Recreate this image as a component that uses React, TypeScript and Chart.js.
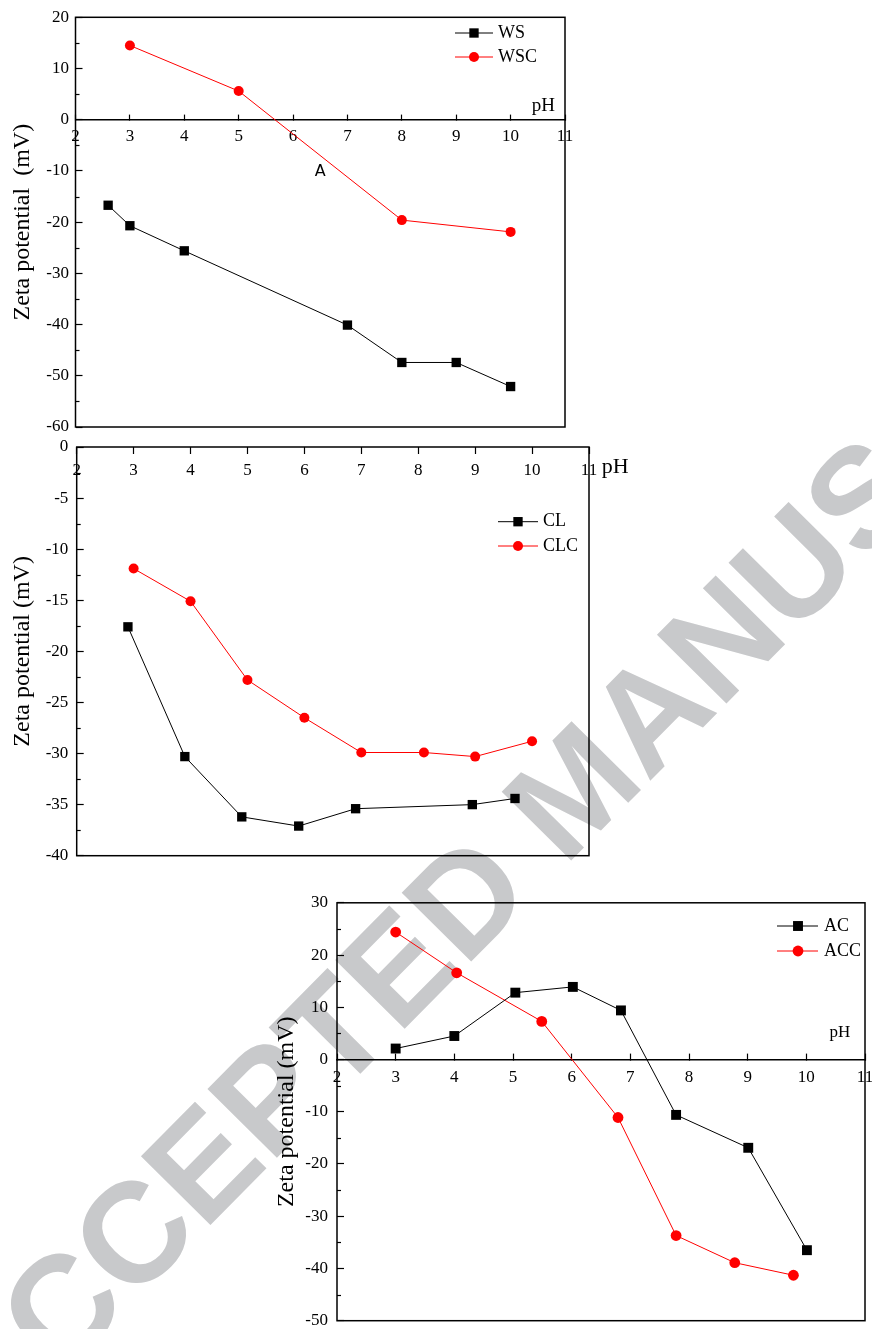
import React, { useEffect, useRef } from 'react';
import { Chart, registerables } from 'chart.js';

Chart.register(...registerables);

// ---------- Data ----------
// Panel A : WS / WSC
const wsPH = [2.6, 3, 4, 7, 8, 9, 10];
const wsZeta = [-16.7, -20.7, -25.6, -40.1, -47.4, -47.4, -52.1];
const wscPH = [3, 5, 8, 10];
const wscZeta = [14.5, 5.6, -19.6, -21.9];

// Panel B : CL / CLC
const clPH = [2.9, 3.9, 4.9, 5.9, 6.9, 8.95, 9.7];
const clZeta = [-17.6, -30.3, -36.2, -37.1, -35.4, -35.0, -34.4];
const clcPH = [3, 4, 5, 6, 7, 8.1, 9, 10];
const clcZeta = [-11.9, -15.1, -22.8, -26.5, -29.9, -29.9, -30.3, -28.8];

// Panel C : AC / ACC
const acPH = [3, 4, 5.04, 6.02, 6.84, 7.78, 9.01, 10.01];
const acZeta = [2.1, 4.5, 12.8, 13.9, 9.4, -10.6, -16.9, -36.5];
const accPH = [3, 4.04, 5.49, 6.79, 7.78, 8.78, 9.78];
const accZeta = [24.4, 16.6, 7.3, -11.1, -33.7, -38.9, -41.3];

// Tick labels
const pHTickLabels = ['2', '3', '4', '5', '6', '7', '8', '9', '10', '11'];
const yTicksA = ['-60', '-50', '-40', '-30', '-20', '-10', '0', '10', '20'];
const yTicksB = ['-40', '-35', '-30', '-25', '-20', '-15', '-10', '-5', '0'];
const yTicksC = ['-50', '-40', '-30', '-20', '-10', '0', '10', '20', '30'];

const WATERMARK = 'ACCEPTED MANUSCRIPT';

// ---------- Styling / layout ----------
const SERIF = '"Liberation Serif", "Times New Roman", serif';
const BLACK = '#000000';
const RED = '#ff0000';

type Series = { label: string; x: number[]; y: number[]; color: string; marker: 'rect' | 'circle'; radius: number };
type Note = { text: string; x: number; y: number; font: string };
type PanelSpec = {
  box: { x: number; y: number; w: number; h: number };
  area: { left: number; top: number; right: number; bottom: number };
  series: Series[];
  yMin: number; yMax: number; yStep: number; yLabels: string[];
  xAxisAt: number; xTickLen: number; xTickPad: number; xBorder: boolean;
  yTickPad: number;
  yTitle: string; yTitlePad: number;
  legend: { x0: number; x1: number; mx: number; tx: number; rows: number[] };
  notes: Note[];
};

const panelA: PanelSpec = {
  box: { x: 0, y: 0, w: 600, h: 440 },
  area: { left: 75.5, top: 17.3, right: 565, bottom: 427 },
  series: [
    { label: 'WS', x: wsPH, y: wsZeta, color: BLACK, marker: 'rect', radius: 6.6 },
    { label: 'WSC', x: wscPH, y: wscZeta, color: RED, marker: 'circle', radius: 5 },
  ],
  yMin: -60, yMax: 20, yStep: 10, yLabels: yTicksA,
  xAxisAt: 0, xTickLen: -6, xTickPad: 13, xBorder: true,
  yTickPad: 13.5,
  yTitle: 'Zeta potential  (mV)', yTitlePad: 8.5,
  legend: { x0: 455, x1: 493, mx: 474, tx: 498, rows: [33, 57] },
  notes: [
    { text: 'pH', x: 10.6, y: 2.6, font: `19px ${SERIF}` },
    { text: 'A', x: 6.5, y: -10.1, font: '16px "DejaVu Sans", sans-serif' },
  ],
};

const panelB: PanelSpec = {
  box: { x: 0, y: 430, w: 660, h: 440 },
  area: { left: 76.7, top: 17, right: 589, bottom: 425.7 },
  series: [
    { label: 'CL', x: clPH, y: clZeta, color: BLACK, marker: 'rect', radius: 6.6 },
    { label: 'CLC', x: clcPH, y: clcZeta, color: RED, marker: 'circle', radius: 5 },
  ],
  yMin: -40, yMax: 0, yStep: 5, yLabels: yTicksB,
  xAxisAt: 0, xTickLen: 7, xTickPad: 6, xBorder: false,
  yTickPad: 15.4,
  yTitle: 'Zeta potential (mV)', yTitlePad: 8.8,
  legend: { x0: 498, x1: 538, mx: 518, tx: 543, rows: [91.7, 116] },
  notes: [{ text: 'pH', x: 11.46, y: -1.96, font: `22px ${SERIF}` }],
};

const panelC: PanelSpec = {
  box: { x: 260, y: 880, w: 612, h: 449 },
  area: { left: 77, top: 22.8, right: 611, bottom: 440.7 },
  series: [
    { label: 'AC', x: acPH, y: acZeta, color: BLACK, marker: 'rect', radius: 7 },
    { label: 'ACC', x: accPH, y: accZeta, color: RED, marker: 'circle', radius: 5.4 },
  ],
  yMin: -50, yMax: 30, yStep: 10, yLabels: yTicksC,
  xAxisAt: 0, xTickLen: -7, xTickPad: 14.8, xBorder: true,
  yTickPad: 16,
  yTitle: 'Zeta potential (mV)', yTitlePad: 12.5,
  legend: { x0: 517, x1: 558, mx: 538, tx: 564, rows: [46, 71] },
  notes: [{ text: 'pH', x: 10.57, y: 5.2, font: `17px ${SERIF}` }],
};

function buildChart(canvas: HTMLCanvasElement, p: PanelSpec) {
  const a = p.area;
  const tickFont = { family: SERIF, size: 17 };

  const decor = {
    id: 'decor',
    afterDraw(chart: any) {
      const { ctx, chartArea: ca, scales } = chart;
      const xs = scales.x;
      const ys = scales.y;
      ctx.save();
      // frame
      ctx.strokeStyle = BLACK;
      ctx.lineWidth = 1.5;
      ctx.strokeRect(ca.left, ca.top, ca.right - ca.left, ca.bottom - ca.top);
      // minor y ticks
      ctx.lineWidth = 1.2;
      for (let v = p.yMin + p.yStep / 2; v < p.yMax; v += p.yStep) {
        const py = Math.round(ys.getPixelForValue(v)) + 0.5;
        ctx.beginPath();
        ctx.moveTo(ca.left, py);
        ctx.lineTo(ca.left + 4, py);
        ctx.stroke();
      }
      // notes
      ctx.fillStyle = BLACK;
      ctx.textAlign = 'center';
      ctx.textBaseline = 'middle';
      for (const n of p.notes) {
        ctx.font = n.font;
        ctx.fillText(n.text, xs.getPixelForValue(n.x), ys.getPixelForValue(n.y));
      }
      // legend
      const lg = p.legend;
      chart.data.datasets.forEach((ds: any, i: number) => {
        const y = lg.rows[i];
        ctx.strokeStyle = ds.borderColor;
        ctx.lineWidth = 1;
        ctx.beginPath();
        ctx.moveTo(lg.x0, y);
        ctx.lineTo(lg.x1, y);
        ctx.stroke();
        ctx.fillStyle = ds.backgroundColor;
        if (ds.pointStyle === 'rect') {
          const s = ds.pointRadius * Math.SQRT1_2;
          ctx.fillRect(lg.mx - s, y - s, 2 * s, 2 * s);
        } else {
          ctx.beginPath();
          ctx.arc(lg.mx, y, ds.pointRadius, 0, Math.PI * 2);
          ctx.fill();
        }
        ctx.fillStyle = BLACK;
        ctx.font = `18px ${SERIF}`;
        ctx.textAlign = 'left';
        ctx.textBaseline = 'middle';
        ctx.fillText(ds.label, lg.tx, y);
      });
      ctx.restore();
    },
  };

  const zeroPad = (s: any) => {
    s.paddingLeft = 0;
    s.paddingRight = 0;
    s.paddingTop = 0;
    s.paddingBottom = 0;
  };

  return new Chart(canvas, {
    type: 'line',
    data: {
      datasets: p.series.map((s) => ({
        label: s.label,
        data: s.x.map((x, i) => ({ x, y: s.y[i] })),
        borderColor: s.color,
        backgroundColor: s.color,
        borderWidth: 1,
        pointStyle: s.marker,
        pointRadius: s.radius,
        pointBorderWidth: 0,
        pointBackgroundColor: s.color,
        tension: 0,
        fill: false,
      })),
    },
    options: {
      responsive: false,
      animation: false,
      devicePixelRatio: 1,
      events: [],
      clip: false as any,
      layout: {
        padding: { left: 0, top: a.top, right: p.box.w - a.right, bottom: p.box.h - a.bottom },
      },
      plugins: {
        legend: { display: false },
        tooltip: { enabled: false },
        title: { display: false },
      },
      scales: {
        x: {
          type: 'linear',
          min: 2,
          max: 11,
          position: { y: p.xAxisAt } as any,
          afterFit: zeroPad,
          ticks: {
            stepSize: 1,
            autoSkip: false,
            maxRotation: 0,
            color: BLACK,
            font: tickFont,
            padding: p.xTickPad,
            callback: (_v: any, i: number) => pHTickLabels[i] ?? '',
          },
          grid: {
            drawOnChartArea: false,
            drawTicks: true,
            tickLength: p.xTickLen,
            tickColor: BLACK,
            tickWidth: 1.2,
          },
          border: { display: p.xBorder, color: BLACK, width: 1.6 },
        },
        y: {
          type: 'linear',
          position: 'left',
          min: p.yMin,
          max: p.yMax,
          afterFit: (s: any) => {
            zeroPad(s);
            s.width = a.left;
          },
          ticks: {
            stepSize: p.yStep,
            color: BLACK,
            font: tickFont,
            padding: p.yTickPad,
            callback: (_v: any, i: number) => p.yLabels[i] ?? '',
          },
          grid: {
            drawOnChartArea: false,
            drawTicks: true,
            tickLength: -7,
            tickColor: BLACK,
            tickWidth: 1.2,
          },
          border: { display: false },
          title: {
            display: true,
            text: p.yTitle,
            color: BLACK,
            font: { family: SERIF, size: 24 },
            padding: { top: p.yTitlePad, bottom: 0 },
          },
        },
      },
    } as any,
    plugins: [decor],
  });
}

function Panel({ spec }: { spec: PanelSpec }) {
  const ref = useRef<HTMLCanvasElement>(null);
  useEffect(() => {
    if (!ref.current) return;
    const chart = buildChart(ref.current, spec);
    return () => chart.destroy();
  }, [spec]);
  return (
    <canvas
      ref={ref}
      width={spec.box.w}
      height={spec.box.h}
      style={{
        position: 'absolute',
        left: spec.box.x,
        top: spec.box.y,
        width: spec.box.w,
        height: spec.box.h,
        display: 'block',
      }}
    />
  );
}

export default function App() {
  useEffect(() => {
    document.body.style.margin = '0';
    document.body.style.background = '#ffffff';
  }, []);
  return (
    <div style={{ position: 'relative', width: 872, height: 1329, overflow: 'hidden', background: '#ffffff' }}>
      <div
        style={{
          position: 'absolute',
          left: 574,
          top: 788,
          transform: 'translate(-50%, -50%) rotate(-45.3deg)',
          font: 'bold 142px "Liberation Sans", Arial, sans-serif',
          lineHeight: 1,
          color: '#c8c9cb',
          whiteSpace: 'nowrap',
        }}
      >
        {WATERMARK}
      </div>
      <Panel spec={panelA} />
      <Panel spec={panelB} />
      <Panel spec={panelC} />
    </div>
  );
}
